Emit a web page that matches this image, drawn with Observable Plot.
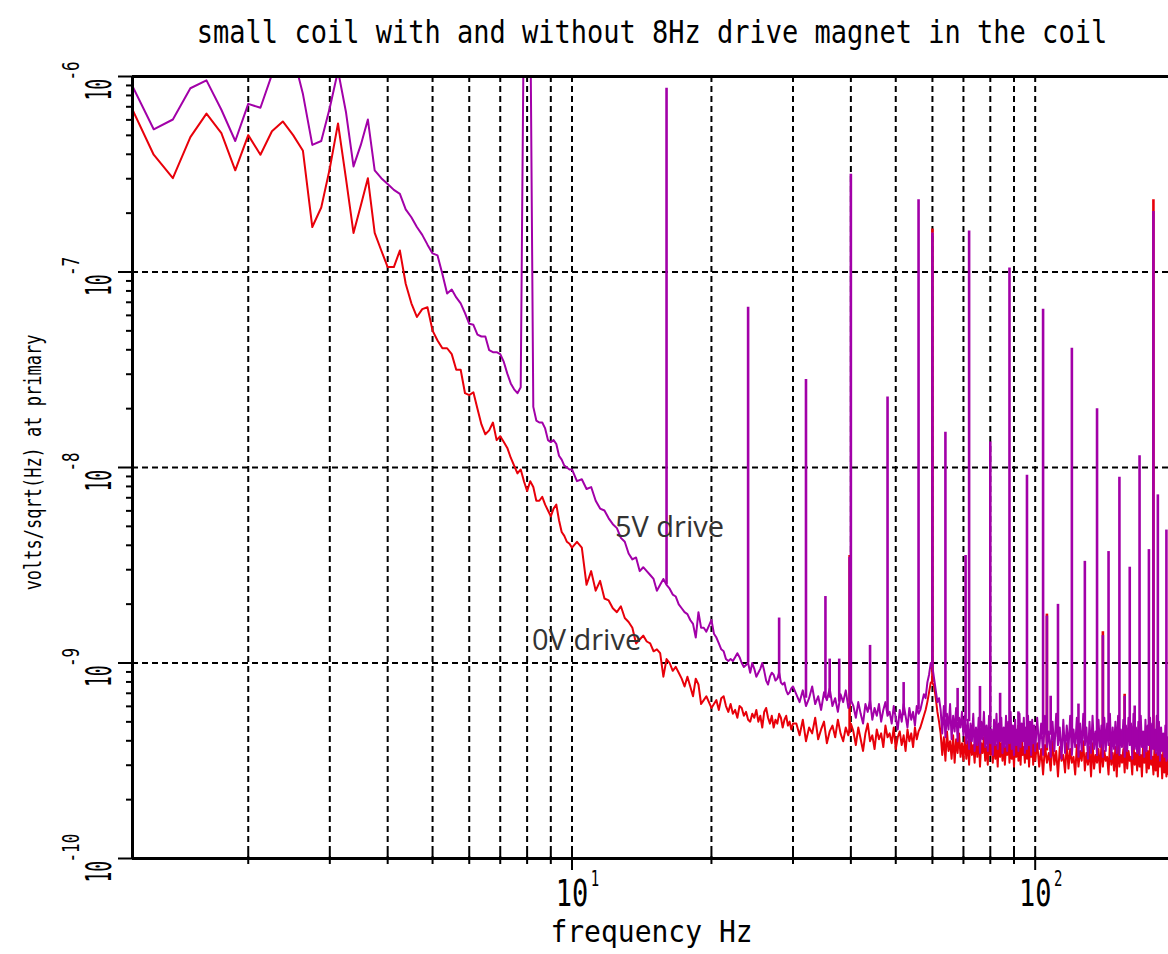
<!DOCTYPE html>
<html><head><meta charset="utf-8">
<script src="https://cdn.jsdelivr.net/npm/d3@7"></script>
<script src="https://cdn.jsdelivr.net/npm/@observablehq/plot@0.6"></script>
<style>
body{margin:0;background:#fff;width:1168px;height:954px;overflow:hidden}
#title{position:relative;height:50px;}
#title span{position:absolute;left:136px;right:0;top:20px;text-align:center;font:27px/27px "DejaVu Sans Mono",monospace;color:#000;transform:scaleY(1.2);transform-origin:50% 23px;white-space:nowrap}
</style></head><body>
<div id="title"><span>small coil with and without 8Hz drive magnet in the coil</span></div>
<div id="chart"></div>
<script>
// ---- DATA (values are log10 of volts/sqrt(Hz)) ----
// frequency bands of the spectrum: start and resolution (Hz)
const bandStart = [1.125, 10.25, 30.5, 101];
const bandStep  = [0.125, 0.25, 0.5, 1];

// 5V drive (purple)
const purpleA = [-6.05,-6.27,-6.22,-6.06,-6.02,-6.17,-6.33,-6.14,-6.16,-5.99,-5.92,-5.89,-6.09,-6.35,-6.33,-6.16,-5.97,-6.18,-6.46,-6.35,
 -6.22,-6.48,-6.52,-6.55,-6.58,-6.60,-6.68,-6.72,-6.77,-6.81,-6.86,-6.905,-6.915,-7.01,-7.11,-7.09,-7.13,-7.16,-7.21,-7.265,
 -7.27,-7.32,-7.33,-7.33,-7.40,-7.41,-7.41,-7.42,-7.46,-7.52,-7.57,-7.60,-7.62,-7.59,-5.60,-5.30,-5.60,-7.69,-7.76,-7.77,
 -7.77,-7.80,-7.86,-7.87,-7.86,-7.88,-7.94,-7.96,-7.99,-8.00,-8.01,-8.01];
const purpleB = [-8.07,-8.06,-8.11,-8.10,-8.17,-8.21,-8.22,-8.26,-8.29,-8.31,
 -8.36,-8.38,-8.44,-8.47,-8.46,-8.53,-8.51,-8.53,-8.55,-8.57,
 -8.63,-8.60,-8.57,-8.60,-8.62,-8.65,-8.66,-8.70,-8.72,-8.74,
 -8.75,-8.78,-8.80,-8.87,-8.74,-8.82,-8.82,-8.84,-8.81,-8.78,
 -8.85,-8.87,-8.90,-8.93,-8.94,-8.98,-8.99,-8.98,-8.99,-8.97,
 -8.95,-8.97,-9.00,-9.02,-9.01,-9.00,-9.05,-9.00,-9.03,-9.07,
 -9.05,-9.03,-9.00,-9.04,-9.09,-9.11,-9.07,-9.05,-9.06,-9.09,
 -9.08,-9.05,-9.10,-9.11,-9.10,-9.14,-9.16,-9.15,-9.13,-9.12];
const purpleC = [-9.16,-9.20,-9.14,-9.22,-9.18,-9.12,-9.21,-9.17,-9.24,-9.15,-9.19,-9.13,-9.22,-9.18,-9.25,-9.16,-9.20,-9.14,-9.23,-9.19,
 -9.22,-9.28,-9.20,-9.26,-9.31,-9.21,-9.25,-9.19,-9.29,-9.23,-9.27,-9.21,-9.30,-9.24,-9.20,-9.27,
 -9.25,-9.31,-9.22,-9.28,-9.34,-9.24,-9.30,-9.21,-9.27,-9.33,-9.23,-9.29,-9.25,-9.32,-9.22,-9.26,
 -9.24,-9.20,-9.16,-9.18,-9.10,-9.06,-9.00,-9.02,-9.08,-9.14,-9.20,-9.18,
 -9.24,-9.36,-9.22,-9.38,-9.26,-9.34,-9.21,-9.39,-9.27,-9.35,-9.23,-9.40,-9.28,-9.33,-9.25,-9.37,
 -9.27,-9.41,-9.29,-9.44,-9.31,-9.40,-9.26,-9.45,-9.33,-9.42,
 -9.28,-9.46,-9.30,-9.39,-9.25,-9.43,-9.32,-9.45,-9.27,-9.41,
 -9.34,-9.47,-9.29,-9.42,-9.26,-9.44,-9.31,-9.40,-9.28,-9.46,
 -9.33,-9.43,-9.27,-9.45,-9.30,-9.41,-9.25,-9.44,-9.32,-9.47,
 -9.29,-9.42,-9.34,-9.45,-9.26,-9.43,-9.31,-9.40,-9.28,-9.46,
 -9.33,-9.44,-9.27,-9.42,-9.30,-9.47,-9.29,-9.41,-9.32,-9.45];
const purpleD = [-9.28,-9.44,-9.31,-9.47,-9.27,-9.43,-9.35,-9.48,-9.30,-9.45,
 -9.26,-9.42,-9.33,-9.49,-9.29,-9.46,-9.32,-9.44,-9.27,-9.47,
 -9.34,-9.43,-9.28,-9.48,-9.31,-9.45,-9.26,-9.42,-9.33,-9.49,
 -9.30,-9.46,-9.27,-9.44,-9.35,-9.47,-9.29,-9.43,-9.32,-9.48,
 -9.28,-9.45,-9.31,-9.42,-9.26,-9.49,-9.33,-9.44,-9.30,-9.46,
 -9.27,-9.47,-9.34,-9.43,-9.29,-9.48,-9.32,-9.45,-9.28,-9.42,
 -9.31,-9.49,-9.26,-9.44,-9.33,-9.46,-9.30,-9.47,-9.27,-9.43,
 -9.35,-9.48,-9.29,-9.45,-9.32,-9.42,-9.28,-9.49,-9.31,-9.44,
 -9.34,-9.46,-9.27,-9.47,-9.30,-9.50,-9.33,-9.45,-9.36,-9.48,
 -9.32,-9.50,-9.38,-9.49];

// 0V drive (red)
const redA = [-6.17,-6.40,-6.52,-6.31,-6.19,-6.29,-6.48,-6.30,-6.40,-6.28,-6.23,-6.30,-6.38,-6.77,-6.67,-6.47,-6.24,-6.52,-6.80,-6.66,
 -6.52,-6.80,-6.89,-6.975,-6.975,-6.89,-7.06,-7.16,-7.23,-7.19,-7.18,-7.30,-7.35,-7.39,-7.39,-7.42,-7.50,-7.50,-7.62,-7.63,
 -7.615,-7.70,-7.78,-7.83,-7.81,-7.77,-7.86,-7.84,-7.87,-7.90,-7.95,-7.99,-8.03,-8.01,-8.07,-8.12,-8.07,-8.10,-8.17,-8.17,
 -8.15,-8.19,-8.22,-8.25,-8.21,-8.19,-8.27,-8.33,-8.35,-8.38,-8.39,-8.41];
const redB = [-8.38,-8.41,-8.60,-8.53,-8.63,-8.58,-8.67,-8.68,-8.72,-8.74,
 -8.71,-8.77,-8.79,-8.82,-8.90,-8.88,-8.86,-8.89,-8.90,-8.94,
 -8.93,-8.95,-9.07,-8.98,-9.00,-9.04,-9.02,-9.05,-9.08,-9.12,
 -9.07,-9.12,-9.17,-9.08,-9.11,-9.21,-9.19,-9.17,-9.20,-9.23,
 -9.21,-9.19,-9.24,-9.18,-9.17,-9.22,-9.25,-9.21,-9.26,-9.24,
 -9.28,-9.22,-9.23,-9.27,-9.25,-9.29,-9.30,-9.26,-9.28,-9.24,
 -9.30,-9.27,-9.33,-9.25,-9.23,-9.28,-9.31,-9.27,-9.33,-9.29,
 -9.31,-9.26,-9.28,-9.33,-9.29,-9.27,-9.32,-9.30,-9.34,-9.31];
const redC = [-9.31,-9.37,-9.29,-9.40,-9.33,-9.36,-9.28,-9.39,-9.34,-9.30,-9.41,-9.35,-9.32,-9.38,-9.29,-9.36,-9.40,-9.33,-9.37,-9.31,
 -9.35,-9.42,-9.33,-9.39,-9.45,-9.36,-9.31,-9.40,-9.37,-9.44,-9.34,-9.39,-9.36,-9.43,-9.32,-9.38,
 -9.36,-9.41,-9.33,-9.44,-9.38,-9.35,-9.42,-9.37,-9.45,-9.34,-9.40,-9.36,-9.43,-9.33,-9.39,-9.35,
 -9.33,-9.30,-9.27,-9.24,-9.20,-9.15,-9.10,-9.10,-9.12,-9.18,-9.25,-9.30,
 -9.36,-9.47,-9.38,-9.50,-9.35,-9.45,-9.40,-9.49,-9.37,-9.51,-9.39,-9.46,-9.36,-9.48,-9.41,-9.50,
 -9.38,-9.49,-9.40,-9.52,-9.37,-9.47,-9.42,-9.51,-9.39,-9.48,
 -9.36,-9.53,-9.41,-9.46,-9.38,-9.50,-9.43,-9.52,-9.37,-9.47,
 -9.40,-9.51,-9.39,-9.49,-9.42,-9.53,-9.36,-9.48,-9.41,-9.50,
 -9.38,-9.52,-9.43,-9.47,-9.37,-9.51,-9.40,-9.49,-9.42,-9.53,
 -9.39,-9.48,-9.36,-9.50,-9.41,-9.52,-9.38,-9.47,-9.43,-9.51,
 -9.37,-9.49,-9.40,-9.53,-9.42,-9.48,-9.39,-9.52,-9.41,-9.50];
const redD = [-9.41,-9.53,-9.44,-9.57,-9.42,-9.51,-9.46,-9.55,-9.40,-9.52,
 -9.45,-9.58,-9.43,-9.50,-9.47,-9.56,-9.41,-9.54,-9.44,-9.51,
 -9.48,-9.57,-9.42,-9.53,-9.45,-9.50,-9.40,-9.55,-9.46,-9.52,
 -9.43,-9.58,-9.41,-9.54,-9.47,-9.51,-9.44,-9.56,-9.42,-9.53,
 -9.45,-9.50,-9.48,-9.57,-9.41,-9.52,-9.46,-9.55,-9.43,-9.58,
 -9.40,-9.53,-9.47,-9.51,-9.44,-9.56,-9.42,-9.54,-9.45,-9.50,
 -9.48,-9.57,-9.41,-9.52,-9.46,-9.55,-9.43,-9.53,-9.47,-9.58,
 -9.42,-9.51,-9.44,-9.56,-9.45,-9.54,-9.41,-9.52,-9.48,-9.57,
 -9.43,-9.55,-9.46,-9.58,-9.44,-9.53,-9.47,-9.59,-9.45,-9.56,
 -9.48,-9.58,-9.46,-9.57];

// narrow spectral lines (drive harmonics, mains)
const spikeFreq = [16,24,28,32,35.25,36,37.75,39.75,40,44, 48,52,56,60,64,68,70.75,72,76,80,
 84,88,92,96,104,106,108,112,120,124, 128,136,140,144,152,156,160,164,168,176, 180,184,192];
const spikePurplePeak = [-6.06,-7.18,-8.77,-7.55,-8.66,-8.98,-8.98,-8.46,-6.50,-8.91,
 -7.64,-9.10,-6.63,-6.80,-7.82,-9.13,-8.45,-6.79,-9.12,-7.87,
 -9.155,-6.98,-9.25,-8.04,-7.19,-8.76,-9.17,-8.70,-7.39,-9.21,
 -8.48,-7.70,-8.86,-8.43,-8.05,-9.17,-8.51,-9.22,-7.94,-8.42,
 -6.69,-8.14,-8.32];
const spikePurpleBase = [-8.60,-9.00,-9.08,-9.18,-9.18,-9.18,-9.20,-9.20,-9.20,-9.24,
 -9.26,-9.27,-9.24,-9.02,-9.28,-9.30,-9.30,-9.30,-9.33,-9.33,
 -9.34,-9.34,-9.34,-9.35,-9.37,-9.37,-9.37,-9.38,-9.38,-9.38,
 -9.39,-9.39,-9.39,-9.39,-9.40,-9.40,-9.40,-9.40,-9.40,-9.41,
 -9.38,-9.41,-9.41];
const spikeRedPeak = [null,null,null,null,null,null,null,-8.45,null,null,
 null,null,null,-6.78,null,null,null,null,null,null,
 null,null,-9.32,null,null,-8.75,null,null,null,null,
 null,null,-8.84,null,null,-9.16,null,null,null,null,
 -6.63,null,null];
const spikeRedBase = [null,null,null,null,null,null,null,-9.36,null,null,
 null,null,null,-9.10,null,null,null,null,null,null,
 null,null,-9.42,null,null,-9.45,null,null,null,null,
 null,null,-9.46,null,null,-9.47,null,null,null,null,
 -9.44,null,null];

// axes / grid / labels
const gridFreq = [2,3,4,5,6,7,8,9,10,20,30,40,50,60,70,80,90,100];
const gridValue = [1e-7,1e-8,1e-9];
const xMajor = [10,100];
const xMajorExp = ["1","2"];
const xMinor = [2,3,4,5,6,7,8,9,20,30,40,50,60,70,80,90];
const yMajor = [1e-10,1e-9,1e-8,1e-7,1e-6];
const yMajorExp = ["-10","-9","-8","-7","-6"];
const yMinor = [2e-10,3e-10,4e-10,5e-10,6e-10,7e-10,8e-10,9e-10,2e-9,3e-9,4e-9,5e-9,6e-9,7e-9,8e-9,9e-9,
 2e-8,3e-8,4e-8,5e-8,6e-8,7e-8,8e-8,9e-8,2e-7,3e-7,4e-7,5e-7,6e-7,7e-7,8e-7,9e-7];
const annoText = ["5V drive","0V drive"];
const annoFreq = [12.38, 8.2];
const annoValue = [4.39e-9, 1.16e-9];

// ---- build tables ----
function toRows(bands){
  const rows = [];
  bands.forEach((vals, b) => vals.forEach((lv, i) => rows.push({f: bandStart[b] + bandStep[b]*i, v: Math.pow(10, lv)})));
  return rows;
}
const purpleRows = toRows([purpleA, purpleB, purpleC, purpleD]);
const redRows = toRows([redA, redB, redC, redD]);
const spikeRows = (peak, base) => spikeFreq.flatMap((f, i) => peak[i] == null ? [] : [{f, y1: Math.pow(10, base[i]), y2: Math.pow(10, peak[i])}]);
const purpleSpikes = spikeRows(spikePurplePeak, spikePurpleBase);
const redSpikes = spikeRows(spikeRedPeak, spikeRedBase);
const annos = annoText.map((t, i) => ({t, f: annoFreq[i], v: annoValue[i]}));

const RED = "#e8000a", PURPLE = "#a200a8", MONO = "DejaVu Sans Mono";
const noText = () => "";

const chart = Plot.plot({
  width: 1168, height: 904,
  marginTop: 26, marginBottom: 96, marginLeft: 132, marginRight: 0,
  style: {background: "white", overflow: "visible"},
  x: {type: "log", domain: [1.125, 194], axis: null},
  y: {type: "log", domain: [1e-10, 1e-6], axis: null},
  marks: [
    Plot.ruleX(gridFreq, {stroke: "#000", strokeWidth: 2, strokeDasharray: "6,4"}),
    Plot.ruleY(gridValue, {stroke: "#000", strokeWidth: 2, strokeDasharray: "6,4"}),
    Plot.line(redRows, {x: "f", y: "v", stroke: RED, strokeWidth: 2, clip: true}),
    Plot.ruleX(redSpikes, {x: "f", y1: "y1", y2: "y2", stroke: RED, strokeWidth: 2.6, clip: true}),
    Plot.line(purpleRows, {x: "f", y: "v", stroke: PURPLE, strokeWidth: 2, clip: true}),
    Plot.ruleX(purpleSpikes, {x: "f", y1: "y1", y2: "y2", stroke: PURPLE, strokeWidth: 2.6, clip: true}),
    Plot.ruleX([1.125], {stroke: "#000", strokeWidth: 3}),
    Plot.ruleY([1e-10], {stroke: "#000", strokeWidth: 3}),
    Plot.ruleY([1e-6], {stroke: "#000", strokeWidth: 3}),
    Plot.axisY(yMinor, {anchor: "left", tickSize: 6, tickFormat: noText, strokeWidth: 2, label: null}),
    Plot.axisY(yMajor, {anchor: "left", tickSize: 14, tickFormat: noText, strokeWidth: 2, label: null}),
    Plot.axisX(xMinor, {anchor: "bottom", tickSize: 12, dy: -6, tickFormat: noText, strokeWidth: 2, label: null}),
    Plot.axisX(xMajor, {anchor: "bottom", tickSize: 18, dy: -6, tickFormat: noText, strokeWidth: 2, label: null}),
    // y tick labels 10^n (rotated)
    Plot.text(yMajor, {y: d => d, frameAnchor: "left", text: () => "10", rotate: -90, textAnchor: "start", lineAnchor: "middle",
      dx: -33.5, dy: 24, fontSize: 18, fontFamily: MONO, fill: "#000", ariaDescription: "ytick-base"}),
    Plot.text(yMajor, {y: d => d, frameAnchor: "left", text: (d, i) => yMajorExp[i], rotate: -90, textAnchor: "start", lineAnchor: "middle",
      dx: -60.5, dy: 4, fontSize: 16, fontFamily: MONO, fill: "#000", ariaDescription: "ytick-exp"}),
    // x tick labels
    Plot.text(xMajor, {x: d => d, frameAnchor: "bottom", text: () => "10", textAnchor: "middle", lineAnchor: "middle", dy: 36, fontSize: 27,
      fontFamily: MONO, fill: "#000", ariaDescription: "xtick-base"}),
    Plot.text(xMajor, {x: d => d, frameAnchor: "bottom", text: (d, i) => xMajorExp[i], textAnchor: "middle", lineAnchor: "middle", dx: 23, dy: 21, fontSize: 14,
      fontFamily: MONO, fill: "#000", ariaDescription: "xtick-exp"}),
    // axis labels
    Plot.text(["frequency Hz"], {frameAnchor: "bottom", text: d => d, textAnchor: "middle", dx: 1, dy: 83, lineAnchor: "bottom",
      fontSize: 28, fontFamily: MONO, fill: "#000", ariaDescription: "xlabel"}),
    Plot.text(["volts/sqrt(Hz) at primary"], {frameAnchor: "left", text: d => d, rotate: -90, textAnchor: "middle", dx: -92, dy: -5,
      lineAnchor: "bottom", fontSize: 17, fontFamily: MONO, fill: "#000", ariaDescription: "ylabel"}),
    // annotations
    Plot.text(annos, {x: "f", y: "v", text: "t", textAnchor: "start", lineAnchor: "bottom",
      fontSize: 29, fontFamily: "Open Sans", fill: "#333"})
  ]
});

// stretch glyphs vertically (tall, narrow plotter lettering); scaling is about each text's anchor
function stretch(desc, k) {
  const g = chart.querySelector(`g[aria-description="${desc}"]`);
  if (!g) return;
  g.querySelectorAll("text").forEach(t => {
    const tr = t.getAttribute("transform");
    if (tr) t.setAttribute("transform", tr + ` scale(1,${k})`);
  });
}
stretch("ytick-base", 2.0);
stretch("ytick-exp", 1.45);
stretch("xtick-base", 1.38);
stretch("xtick-exp", 1.5);
stretch("xlabel", 1.08);
stretch("ylabel", 1.4);

document.getElementById("chart").appendChild(chart);
</script></body></html>
